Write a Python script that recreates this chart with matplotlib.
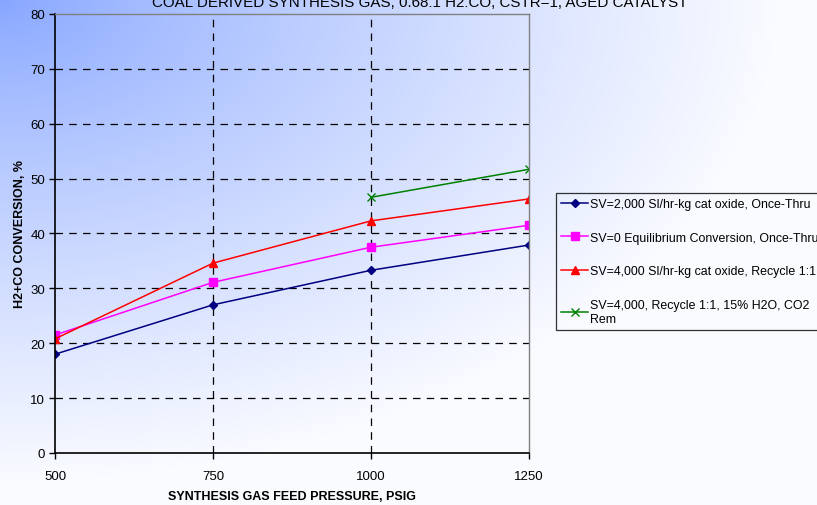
import numpy as np
import matplotlib
matplotlib.use("Agg")
import matplotlib.pyplot as plt

plt.rcParams['font.family'] = ['Liberation Sans', 'DejaVu Sans']

pressure = [500, 750, 1000, 1250]
sv2000_once = [18.0, 27.0, 33.3, 37.9]
sv0_equil = [21.5, 31.1, 37.5, 41.5]
sv4000_recycle = [20.8, 34.6, 42.3, 46.3]
pressure_co2 = [1000, 1250]
sv4000_co2 = [46.6, 51.7]

labels = [
    "SV=2,000 Sl/hr-kg cat oxide, Once-Thru",
    "SV=0 Equilibrium Conversion, Once-Thru",
    "SV=4,000 Sl/hr-kg cat oxide, Recycle 1:1",
    "SV=4,000, Recycle 1:1, 15% H2O, CO2\nRem",
]
xticks = [500, 750, 1000, 1250]
yticks = [0, 10, 20, 30, 40, 50, 60, 70, 80]

W, H = 817, 506
fig = plt.figure(figsize=(W / 100, H / 100), dpi=100)

# background: radial fade from blue at the top-left corner to near white
bg = fig.add_axes([0, 0, 1, 1], zorder=-10)
yy, xx = np.mgrid[0:H, 0:W]
d = np.sqrt((xx / W) ** 2 + (yy / H) ** 2)
t = np.clip(d / 0.95, 0, 1) ** 0.8
c0 = np.array([133, 165, 255]) / 255
c1 = np.array([250, 251, 255]) / 255
img = c0[None, None, :] * (1 - t[..., None]) + c1[None, None, :] * t[..., None]
bg.imshow(img, aspect='auto', extent=[0, 1, 0, 1], origin='upper')
bg.axis('off')

ax = fig.add_axes([55 / W, 1 - 454 / H, (529 - 55) / W, (454 - 15) / H])
ax.patch.set_alpha(0)

ax.plot(pressure, sv2000_once, color='#000080', marker='D', markersize=4.5, lw=1.1, label=labels[0])
ax.plot(pressure, sv0_equil, color='#ff00ff', marker='s', markersize=5.2, lw=1.1, label=labels[1])
ax.plot(pressure, sv4000_recycle, color='#ff0000', marker='^', markersize=6, lw=1.1, label=labels[2])
ax.plot(pressure_co2, sv4000_co2, color='#008000', marker='x', markersize=5.5, mew=1.0, lw=1.1, label=labels[3])

ax.set_xlim(500, 1250)
ax.set_ylim(0, 80)
ax.set_xticks(xticks)
ax.set_yticks(yticks)
ax.tick_params(direction='out', length=4, width=1, labelsize=9.5, colors='black', pad=3)
ax.tick_params(axis='x', pad=8)

for v in yticks[1:-1]:
    ax.axhline(v, color='black', lw=0.9, ls=(0, (6, 5)), zorder=0.5)
for v in xticks[1:-1]:
    ax.axvline(v, color='black', lw=0.9, ls=(0, (6, 5)), zorder=0.5)

for side in ['left', 'bottom']:
    ax.spines[side].set_color('black')
    ax.spines[side].set_linewidth(1.2)
for side in ['right', 'top']:
    ax.spines[side].set_color('#808080')
    ax.spines[side].set_linewidth(1.0)

ax.set_xlabel("SYNTHESIS GAS FEED PRESSURE, PSIG", fontsize=9, fontweight='bold', labelpad=6)
ax.set_ylabel("H2+CO CONVERSION, %", fontsize=9, fontweight='bold', labelpad=3)

fig.text(420 / W, 1 - 7 / H, "COAL DERIVED SYNTHESIS GAS, 0.68:1 H2:CO, CSTR=1, AGED CATALYST",
         ha='center', va='baseline', fontsize=10.9)

leg = fig.legend(loc='upper left', bbox_to_anchor=(556 / W, 1 - 194 / H), fontsize=8.9,
                 frameon=True, fancybox=False, edgecolor='black', facecolor='none',
                 labelspacing=1.75, handlelength=2.2, handletextpad=0.15, borderpad=0.4,
                 borderaxespad=0)
leg.get_frame().set_linewidth(0.9)

fig.savefig("out.png", dpi=100)
